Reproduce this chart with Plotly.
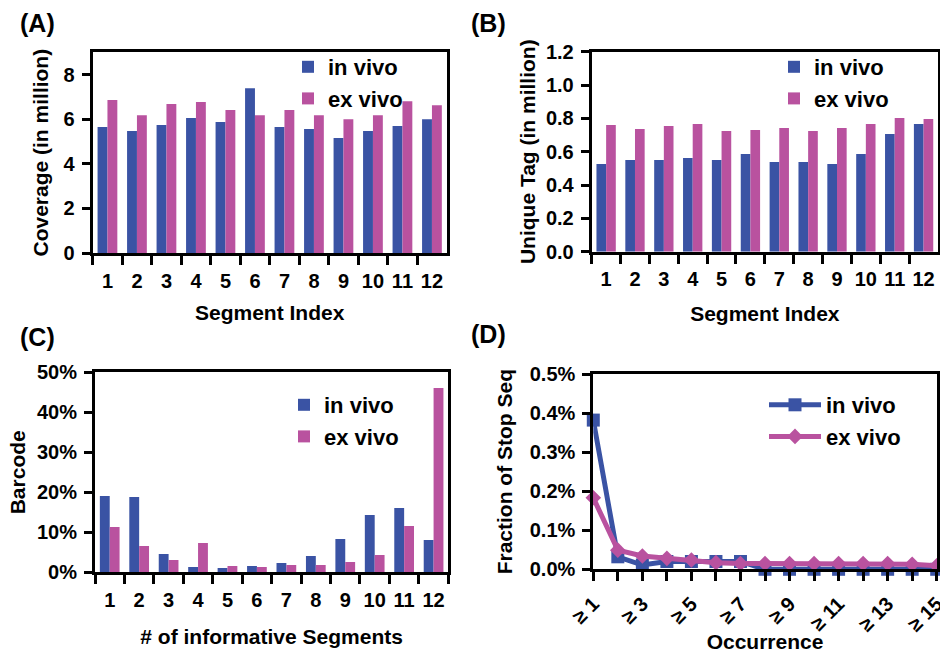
import plotly.graph_objects as go

segments = [str(i) for i in range(1, 13)]

coverage_in_vivo = [5.65, 5.47, 5.74, 6.05, 5.87, 7.39, 5.65, 5.56, 5.16, 5.47, 5.69, 6.00]
coverage_ex_vivo = [6.86, 6.18, 6.68, 6.77, 6.41, 6.18, 6.41, 6.18, 6.00, 6.18, 6.81, 6.63]

unique_in_vivo = [0.526, 0.550, 0.550, 0.562, 0.550, 0.586, 0.538, 0.538, 0.526, 0.586, 0.706, 0.766]
unique_ex_vivo = [0.760, 0.736, 0.754, 0.766, 0.724, 0.730, 0.742, 0.724, 0.742, 0.766, 0.802, 0.796]

barcode_in_vivo = [19.1, 18.8, 4.6, 1.3, 1.1, 1.6, 2.3, 4.1, 8.3, 14.3, 16.1, 8.1]
barcode_ex_vivo = [11.3, 6.6, 3.1, 7.3, 1.6, 1.3, 1.8, 1.8, 2.6, 4.3, 11.6, 46.1]

occurrence = ["≥ %d" % i for i in range(1, 16)]
occurrence_labels = [c if (i % 2 == 0) else "" for i, c in enumerate(occurrence)]
stop_in_vivo = [0.382, 0.032, 0.011, 0.020, 0.020, 0.020, 0.020, 0.0, 0.0, 0.0, 0.0, 0.0, 0.0, 0.0, 0.0]
stop_ex_vivo = [0.183, 0.049, 0.034, 0.028, 0.024, 0.017, 0.015, 0.015, 0.015, 0.015, 0.015, 0.015, 0.015, 0.013, 0.009]

BLUE = "#3A53A4"
PINK = "#B9529F"
FONT = "Liberation Sans, Arial, sans-serif"

W, H = 940, 653


def PX(px):
    return px / W


def PY(py):
    return 1 - py / H


def XD(a, b):
    return [PX(a), PX(b)]


def YD(top, bottom):
    return [PY(bottom), PY(top)]


fig = go.Figure()

panels = [
    ("x", "y", "legend", coverage_in_vivo, coverage_ex_vivo),
    ("x2", "y2", "legend2", unique_in_vivo, unique_ex_vivo),
    ("x3", "y3", "legend3", barcode_in_vivo, barcode_ex_vivo),
]
for xa, ya, lg, iv, ev in panels:
    fig.add_trace(go.Bar(x=segments, y=iv, name="in vivo", marker=dict(color=BLUE, line=dict(width=0)),
                         xaxis=xa, yaxis=ya, legend=lg, legendgroup=lg + "a"))
    fig.add_trace(go.Bar(x=segments, y=ev, name="ex vivo", marker=dict(color=PINK, line=dict(width=0)),
                         xaxis=xa, yaxis=ya, legend=lg, legendgroup=lg + "b"))

fig.add_trace(go.Scatter(x=occurrence, y=stop_in_vivo, name="in vivo", mode="lines+markers",
                         line=dict(color=BLUE, width=5), marker=dict(symbol="square", size=13, color=BLUE),
                         xaxis="x4", yaxis="y4", legend="legend4", cliponaxis=False))
fig.add_trace(go.Scatter(x=occurrence, y=stop_ex_vivo, name="ex vivo", mode="lines+markers",
                         line=dict(color=PINK, width=5), marker=dict(symbol="diamond", size=12, color=PINK),
                         xaxis="x4", yaxis="y4", legend="legend4", cliponaxis=False))

tickfont = dict(family=FONT, size=20, color="black", weight="bold")
titlefont = dict(family=FONT, size=21, color="black", weight="bold")


def xaxis(domain, anchor, title, tstand, lstand, **kw):
    d = dict(domain=domain, anchor=anchor, showline=True, linecolor="black", linewidth=3, mirror=True,
             ticks="outside", ticklen=9, tickwidth=3, tickcolor="black", showgrid=False, automargin=False,
             tickfont=tickfont, tickangle=0, ticklabelstandoff=lstand,
             title=dict(text=title, font=titlefont, standoff=tstand), fixedrange=True)
    d.update(kw)
    return d


def yaxis(domain, anchor, title, rng, dtick, tstand, **kw):
    d = dict(domain=domain, anchor=anchor, showline=True, linecolor="black", linewidth=3, mirror=True,
             ticks="outside", ticklen=8, tickwidth=3, tickcolor="black", showgrid=False, zeroline=False,
             automargin=False, ticklabelstandoff=3, fixedrange=True,
             range=rng, dtick=dtick, tickfont=tickfont, title=dict(text=title, font=titlefont, standoff=tstand))
    d.update(kw)
    return d


fig.update_layout(
    width=W, height=H,
    margin=dict(l=0, r=0, t=0, b=0, autoexpand=False),
    paper_bgcolor="white", plot_bgcolor="white",
    bargap=0.33, bargroupgap=0,
    barmode="group",
    font=dict(family=FONT, color="black"),
    xaxis=xaxis(XD(92.7, 446.7), "y", "Segment Index", 15, 8, type="category", tickson="boundaries"),
    yaxis=yaxis(YD(52.3, 253), "x", "Coverage (in million)", [0, 9], 2, 10),
    xaxis2=xaxis(XD(591.7, 938), "y2", "Segment Index", 18, 7, type="category", tickson="boundaries"),
    yaxis2=yaxis(YD(51.7, 251.7), "x2", "Unique Tag (in million)", [0, 1.2], 0.2, 5, tickformat=".1f"),
    xaxis3=xaxis(XD(95, 448.3), "y3", "# of informative Segments", 20, 8, type="category", tickson="boundaries"),
    yaxis3=yaxis(YD(372.3, 572.3), "x3", "Barcode", [0, 50], 10, 6, ticksuffix="%"),
    xaxis4=xaxis(XD(593.3, 936.7), "y4", "Occurrence", 8, 3, type="category", range=[0, 14],
                 tickvals=occurrence, ticktext=occurrence_labels, tickangle=-45),
    yaxis4=yaxis(YD(374, 569.3), "x4", "Fraction of Stop Seq", [0, 0.5], 0.1, 12, ticksuffix="%", tickformat=".1f"),
)

legfont = dict(family=FONT, size=22, color="black", weight="bold")
common = dict(xanchor="left", yanchor="top", bgcolor="rgba(0,0,0,0)", font=legfont, itemwidth=30,
              tracegroupgap=0, traceorder="normal")
fig.update_layout(
    legend=dict(x=PX(288), y=PY(46), **common),
    legend2=dict(x=PX(774), y=PY(46), **common),
    legend3={**common, "x": PX(284), "y": PY(384), "tracegroupgap": 2},
    legend4={**common, "x": PX(764), "y": PY(384), "itemwidth": 52},
)

for txt, x, y in [("(A)", 18, 23), ("(B)", 469, 23), ("(C)", 18, 337), ("(D)", 469, 334)]:
    fig.add_annotation(text=txt, x=PX(x), y=PY(y), xref="paper", yref="paper",
                       xanchor="left", yanchor="middle", showarrow=False,
                       font=dict(family=FONT, size=25, color="black", weight="bold"))

fig.write_html("out.html", config={"displayModeBar": False},
               post_script="document.body.style.margin='0';document.body.style.overflow='hidden';")
